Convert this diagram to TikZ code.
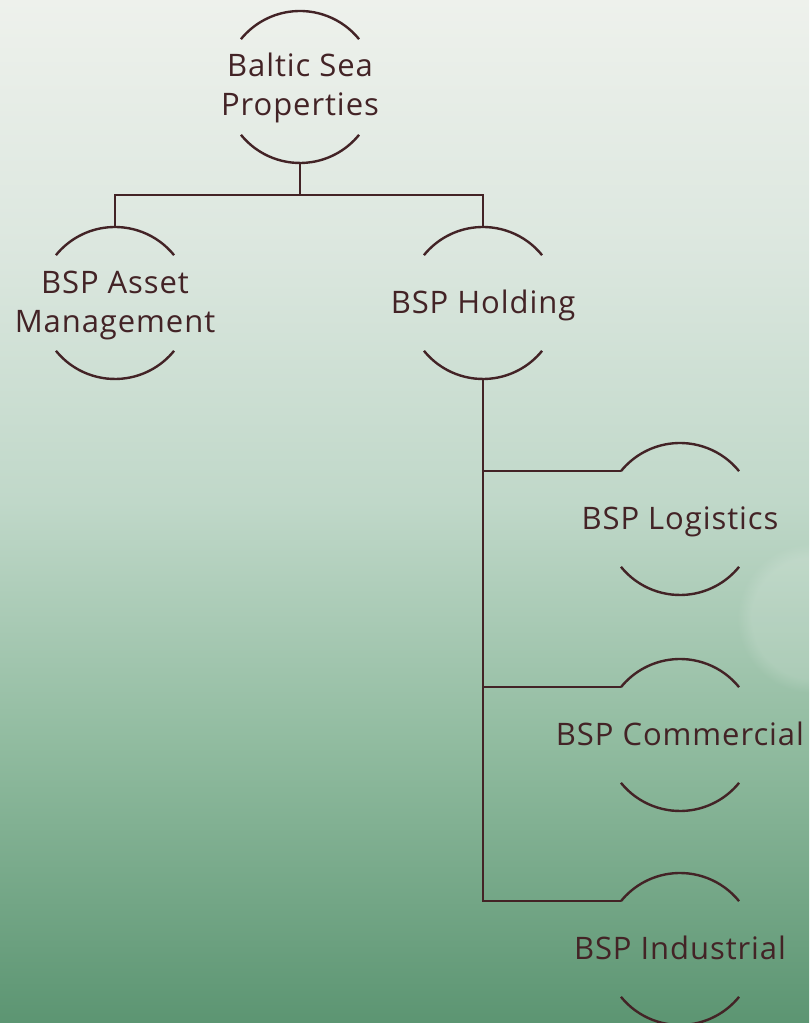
\documentclass[tikz,border=0pt]{standalone}
\usepackage{fontspec}
\setmainfont{Open Sans}[LetterSpace=3]
\usetikzlibrary{calc,fadings}
\definecolor{ink}{HTML}{432326}
\definecolor{bgA}{HTML}{EEF1EC}
\definecolor{bgB}{HTML}{DCE7DF}
\definecolor{bgC}{HTML}{C0D8C9}
\definecolor{bgD}{HTML}{90BB9F}
\definecolor{bgE}{HTML}{5C9572}
\pgfdeclareverticalshading{bgshade}{100bp}{color(0bp)=(bgE); color(25bp)=(bgE); color(38.5bp)=(bgD); color(50.5bp)=(bgC); color(63bp)=(bgB); color(75bp)=(bgA); color(100bp)=(bgA)}
\tikzset{
  ln/.style={draw=ink, line width=2.4pt},
  lbl/.style={text=ink, inner sep=0pt, align=center, font=\fontsize{31}{39}\selectfont},
}
\newcommand\orgarcs[1]{%
  \draw[ln] ($(#1)+(39:76)$) arc[start angle=39,end angle=141,radius=76];
  \draw[ln] ($(#1)+(219:76)$) arc[start angle=219,end angle=321,radius=76];
  \coordinate (#1-t) at ($(#1)+(0,76)$);
  \coordinate (#1-b) at ($(#1)+(0,-76)$);
  \coordinate (#1-l) at ($(#1)+(141:76)$);
}
\begin{document}
\begin{tikzpicture}[x=1pt,y=1pt]
\useasboundingbox (0,0) rectangle (809,1023);
\shade[shading=bgshade] (0,0) rectangle (809,1023);
\fill[white, opacity=0.15, path fading=circle with fuzzy edge 20 percent] (812,405) circle (75);
% centres
\coordinate (A) at (300,936);
\coordinate (B) at (115,720);
\coordinate (C) at (483,720);
\coordinate (D) at (680,504);
\coordinate (E) at (680,288);
\coordinate (F) at (680,74);
\orgarcs{A}\orgarcs{B}\orgarcs{C}\orgarcs{D}\orgarcs{E}\orgarcs{F}
% labels
\node[lbl,anchor=base] (A-txt) at ($(A)+(0,-29)$) {Baltic Sea\\Properties};
\node[lbl,anchor=base] (B-txt) at ($(B)+(0,-29.5)$) {BSP Asset\\Management};
\node[lbl,anchor=base] (C-txt) at ($(C)+(0,-10.5)$) {BSP Holding};
\node[lbl,anchor=base] (D-txt) at ($(D)+(0,-10.5)$) {BSP Logistics};
\node[lbl,anchor=base] (E-txt) at ($(E)+(0,-10.5)$) {BSP Commercial};
\node[lbl,anchor=base] (F-txt) at ($(F)+(0,-10.5)$) {BSP Industrial};
% connectors
\coordinate (J) at ($(A-b)+(0,-32)$);
\draw[ln] (A-b) -- (J);
\draw[ln] (J) -| (B-t);
\draw[ln] (J) -| (C-t);
\draw[ln] (C-b) |- (D-l);
\draw[ln] (C-b) |- (E-l);
\draw[ln] (C-b) |- (F-l);
\end{tikzpicture}
\end{document}
